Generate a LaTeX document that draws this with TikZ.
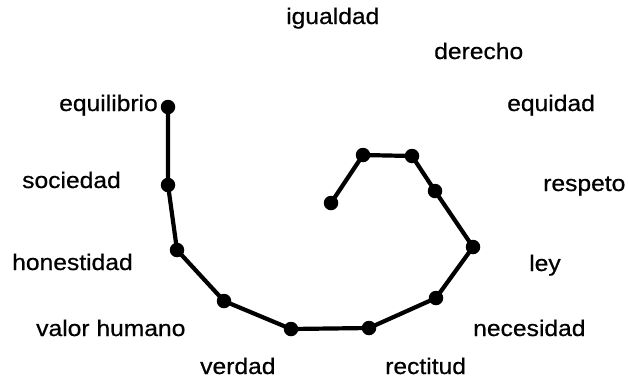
\documentclass[tikz,border=0pt]{standalone}
\usepackage{fontspec}
\setmainfont{Liberation Sans}[FakeStretch=1.09,FakeBold=0.6]
\begin{document}
\begin{tikzpicture}[x=1pt,y=-1pt,
  pt/.style={circle,fill=black,draw=none,minimum size=14.5pt,inner sep=0pt},
  lbl/.style={anchor=base west,inner sep=0pt,font=\fontsize{22.6}{26}\selectfont},
  chain/.style={line width=4.2pt}]
\useasboundingbox[fill=white] (0,0) rectangle (628,378);
% labels
\node[lbl] (tigualdad) at (286,24) {igualdad};
\node[lbl] (tderecho) at (434,59) {derecho};
\node[lbl] (tequidad) at (507,111) {equidad};
\node[lbl] (trespeto) at (543,191) {respeto};
\node[lbl] (tley) at (529,271) {ley};
\node[lbl] (tnecesidad) at (473,336) {necesidad};
\node[lbl] (trectitud) at (385,374) {rectitud};
\node[lbl] (tverdad) at (200,374) {verdad};
\node[lbl] (tvalor) at (36,336) {valor humano};
\node[lbl] (thonestidad) at (12,270) {honestidad};
\node[lbl] (tsociedad) at (22,188) {sociedad};
\node[lbl] (tequilibrio) at (59,111) {equilibrio};
% points
\node[pt] (p1) at (168,107) {};
\node[pt] (p2) at (168,185) {};
\node[pt] (p3) at (177,250) {};
\node[pt] (p4) at (224,301) {};
\node[pt] (p5) at (291,329) {};
\node[pt] (p6) at (369,328) {};
\node[pt] (p7) at (436,298) {};
\node[pt] (p8) at (473,247) {};
\node[pt] (p9) at (435,191) {};
\node[pt] (p10) at (412,156) {};
\node[pt] (p11) at (363,155) {};
\node[pt] (p12) at (331,203) {};
\draw[chain] (p1.center) -- (p2.center) -- (p3.center) -- (p4.center) -- (p5.center) -- (p6.center) -- (p7.center) -- (p8.center) -- (p9.center) -- (p10.center) -- (p11.center) -- (p12.center);
\end{tikzpicture}
\end{document}
